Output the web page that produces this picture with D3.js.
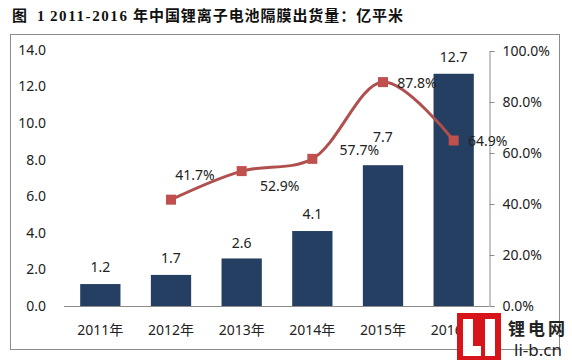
<!DOCTYPE html>
<html><head><meta charset="utf-8">
<script src="https://cdn.jsdelivr.net/npm/d3@7"></script>
<style>body{margin:0;background:#fff}svg{display:block}</style>
</head><body>
<script>
const years = ["2011年","2012年","2013年","2014年","2015年","2016年"];
const shipments = [1.2, 1.7, 2.6, 4.1, 7.7, 12.7];
const growthYears = ["2012年","2013年","2014年","2015年","2016年"];
const growth = [41.7, 52.9, 57.7, 87.8, 64.9];
const leftTicks = [0,2,4,6,8,10,12,14];
const rightTicks = [0,20,40,60,80,100];
const titleParts = ["图","1","2011-2016","年中国锂离子电池隔膜出货量：亿平米"];

const W=572,H=360;
const svg=d3.select("body").append("svg").attr("width",W).attr("height",H);
const font='"Noto Sans","Noto Sans CJK SC",sans-serif';

// title: parts laid out as in the original (start x and target width per part)
const titleLayout=[[12,14],[37,6],[50,77],[133,270]];
const tg=svg.append("g");
titleParts.forEach((p,i)=>{
  const isLatin=/^[0-9\-]+$/.test(p);
  const t=tg.append("text").attr("x",titleLayout[i][0]).attr("y",21).text(p)
    .style("font-family",isLatin?'"Liberation Serif",serif':'"Noto Sans CJK SC",sans-serif')
    .style("font-weight","bold").style("font-size","15px").attr("fill","#111");
  if(p.length>1){
    const len=t.node().getComputedTextLength();
    const ls=(titleLayout[i][1]-len)/(p.length-1);
    t.style("letter-spacing",ls.toFixed(2)+"px");
  }
});

svg.append("rect").attr("x",10.5).attr("y",34.5).attr("width",549).attr("height",315)
  .attr("fill","none").attr("stroke","#8c8c8c").attr("stroke-width",1);

const x=d3.scaleBand().domain(years).range([65,489]).paddingInner(0.43).paddingOuter(0.215);
const yL=d3.scaleLinear().domain([0,14]).range([306,50]);
const yR=d3.scaleLinear().domain([0,100]).range([306,51]);

// left tick labels
svg.append("g").selectAll("text").data(leftTicks).join("text")
  .attr("x",46).attr("y",d=>yL(d)).attr("dy","0.35em").attr("text-anchor","end")
  .attr("font-family",font).attr("font-size",14).attr("fill","#222")
  .text(d=>d.toFixed(1));

// bars
svg.append("g").selectAll("rect").data(shipments).join("rect")
  .attr("x",(d,i)=>x(years[i])).attr("width",x.bandwidth())
  .attr("y",d=>yL(d)).attr("height",d=>yL(0)-yL(d)).attr("fill","#253F62");

// baseline
svg.append("line").attr("x1",64).attr("x2",489).attr("y1",306.5).attr("y2",306.5)
  .attr("stroke","#8c8c8c");

// right axis
const ra=d3.axisRight(yR).tickValues(rightTicks).tickSize(5).tickFormat(d=>d.toFixed(1)+"%");
const rg=svg.append("g").attr("transform","translate(489.5,0)").call(ra);
rg.select(".domain").attr("stroke","#8c8c8c");
rg.selectAll(".tick line").attr("stroke","#8c8c8c");
rg.selectAll(".tick text").attr("x",13).attr("font-family",font).attr("font-size",14).attr("fill","#222");

// x labels
svg.append("g").selectAll("text").data(years).join("text")
  .attr("x",d=>x(d)+x.bandwidth()/2).attr("y",330).attr("dy","0.35em").attr("text-anchor","middle")
  .attr("font-family",font).attr("font-size",14).attr("fill","#222").text(d=>d);

// bar labels (7.7 label raised as in the original)
const barLabelGap=[17,17,15,17,28,17];
svg.append("g").selectAll("text").data(shipments).join("text")
  .attr("x",(d,i)=>x(years[i])+x.bandwidth()/2).attr("y",(d,i)=>yL(d)-barLabelGap[i]).attr("dy","0.35em")
  .attr("text-anchor","middle").attr("font-family",font).attr("font-size",14).attr("fill","#222")
  .text(d=>d.toFixed(1));

// line
const cx=d=>x(d)+x.bandwidth()/2;
const pts=growth.map((v,i)=>[cx(growthYears[i]),yR(v)]);
svg.append("path").attr("d",d3.line().curve(d3.curveCatmullRom.alpha(0.5))(pts))
  .attr("fill","none").attr("stroke","#B0504E").attr("stroke-width",3);
svg.append("g").selectAll("rect").data(pts).join("rect")
  .attr("x",d=>d[0]-5).attr("y",d=>d[1]-5).attr("width",10).attr("height",10)
  .attr("fill","#C0504D");

// percent labels (offsets per label)
const off=[[24,-25],[38,15],[47,-9],[34,1],[34,1]];
svg.append("g").selectAll("text").data(growth).join("text")
  .attr("x",(d,i)=>pts[i][0]+off[i][0]).attr("y",(d,i)=>pts[i][1]+off[i][1]).attr("dy","0.35em")
  .attr("text-anchor","middle").attr("font-family",font).attr("font-size",14).attr("fill","#222")
  .text(d=>d.toFixed(1)+"%");

// logo
const lg=svg.append("g");
lg.append("rect").attr("x",457).attr("y",313).attr("width",44).attr("height",47).attr("fill","#D7141A");
lg.append("rect").attr("x",463).attr("y",319).attr("width",10).attr("height",37).attr("fill","#fff");
lg.append("rect").attr("x",463).attr("y",346).attr("width",18).attr("height",10).attr("fill","#fff");
lg.append("rect").attr("x",485).attr("y",319).attr("width",10).attr("height",37).attr("fill","#fff");
lg.append("text").attr("x",538).attr("y",329).attr("dy","0.35em").attr("text-anchor","middle")
  .attr("font-family",'"Noto Sans CJK SC"').attr("font-weight","bold").attr("font-size",17)
  .style("letter-spacing","3px").attr("fill","#222").text("锂电网");
lg.append("text").attr("x",538).attr("y",350).attr("dy","0.35em").attr("text-anchor","middle")
  .attr("font-family",font).attr("font-size",17).attr("fill","#222").text("li-b.cn");
</script>
</body></html>
